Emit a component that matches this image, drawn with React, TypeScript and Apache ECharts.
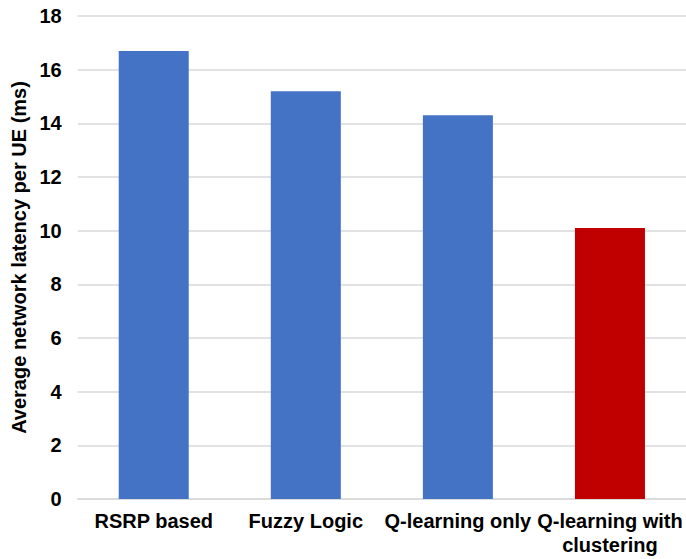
import React, { useEffect, useRef } from "react";
import * as echarts from "echarts";

const categories = ["RSRP based", "Fuzzy Logic", "Q-learning only", "Q-learning with\nclustering"];
const values = [16.7, 15.2, 14.3, 10.1];
const barColors = ["#4472C4", "#4472C4", "#4472C4", "#C00000"];
const yTicks = { min: 0, max: 18, interval: 2 };
const yName = "Average network latency per UE (ms)";

export default function App() {
  const ref = useRef<HTMLDivElement>(null);
  useEffect(() => {
    if (!ref.current) return;
    const chart = echarts.init(ref.current, null, { renderer: "svg" });
    const font = "'Liberation Sans', Arial, sans-serif";
    chart.setOption({
      animation: false,
      backgroundColor: "#ffffff",
      grid: { left: 77.7, right: -2, top: 16, bottom: 60, containLabel: false },
      xAxis: {
        type: "category",
        data: categories,
        axisLine: { show: true, lineStyle: { color: "#d9d9d9", width: 1.5 } },
        axisTick: { show: false },
        axisLabel: {
          interval: 0,
          color: "#000",
          fontFamily: font,
          fontWeight: "bold",
          fontSize: 20,
          lineHeight: 24,
          margin: 10,
        },
      },
      yAxis: {
        type: "value",
        min: yTicks.min,
        max: yTicks.max,
        interval: yTicks.interval,
        name: yName,
        nameLocation: "middle",
        nameGap: 44,
        nameTextStyle: { color: "#000", fontFamily: font, fontWeight: "bold", fontSize: 20 },
        axisLine: { show: false },
        axisTick: { show: false },
        splitLine: { lineStyle: { color: "#d9d9d9", width: 1.5 } },
        axisLabel: { color: "#000", fontFamily: font, fontWeight: "bold", fontSize: 20, margin: 16 },
      },
      series: [
        {
          type: "bar",
          barWidth: 70,
          data: values.map((v, i) => ({ value: v, itemStyle: { color: barColors[i] } })),
        },
      ],
    });
    return () => chart.dispose();
  }, []);
  return (
    <div
      ref={ref}
      style={{ position: "fixed", left: 0, top: 0, width: 686, height: 559, background: "#fff" }}
    />
  );
}
